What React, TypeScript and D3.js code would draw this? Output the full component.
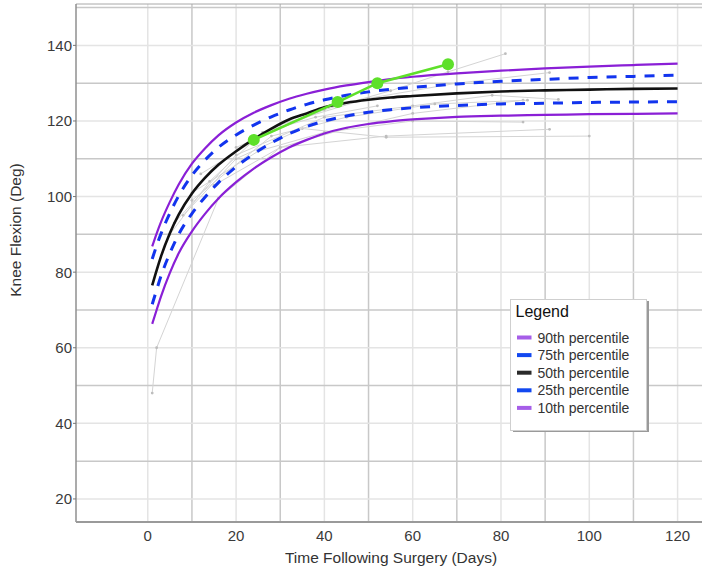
import React, { useEffect, useRef } from 'react';
import * as d3 from 'd3';

// percentile curves (day -> knee flexion in degrees)
const days = [1, 2, 3, 5, 7, 10, 13, 16, 20, 24, 28, 32, 36, 40, 45, 50, 55, 60, 70, 80, 90, 100, 110, 120];
const p90 = [86.8, 90.2, 93.3, 98.6, 103.2, 108.7, 112.8, 116.2, 119.6, 122.2, 124.2, 125.9, 127.2, 128.3, 129.4, 130.3, 131.1, 131.7, 132.6, 133.3, 133.9, 134.4, 134.8, 135.2];
const p75 = [83.5, 87, 90.2, 95.6, 100.2, 105.6, 109.7, 113, 116.3, 118.9, 121.1, 122.9, 124.4, 125.6, 126.8, 127.7, 128.4, 128.9, 129.8, 130.5, 131, 131.5, 131.8, 132.1];
const p50 = [76.5, 80.5, 84.2, 90.3, 95.2, 100.8, 105, 108.4, 112, 115.2, 118, 120.4, 122, 123.6, 124.8, 125.6, 126.2, 126.6, 127.3, 127.8, 128.1, 128.3, 128.5, 128.6];
const p25 = [71.5, 75.3, 79, 85, 90, 95.5, 99.9, 103.7, 107.9, 111.3, 114.2, 116.6, 118.5, 120, 121.3, 122.3, 123, 123.5, 124.1, 124.5, 124.7, 124.9, 125, 125.1];
const p10 = [66.3, 70, 73.6, 79.8, 85, 90.8, 95.5, 99.5, 103.8, 107.4, 110.4, 113, 115, 116.7, 118.2, 119.2, 119.9, 120.4, 121.1, 121.4, 121.6, 121.8, 121.9, 122];

// this patient
const patientDays = [24, 43, 52, 68];
const patientVals = [115, 125, 130, 135];

// other patients (grey background traces) as [day, value]
const traceA = [[1, 48], [2, 60], [16, 99.5], [30, 113], [45, 118], [60, 122], [85, 125.5]];
const traceB = [[8, 95], [20, 110], [35, 118], [54, 115.7], [100, 116]];
const traceC = [[10, 101], [25, 112], [40, 117], [60, 120], [85, 119.7]];
const traceD = [[15, 103], [30, 113], [54, 116], [91, 117.8]];
const traceE = [[20, 113], [40, 123], [55, 128], [68, 133], [81, 137.8]];
const traceF = [[12, 106], [30, 119], [50, 126], [70, 130], [91, 132.8]];
const traceG = [[6, 93], [20, 111], [40, 121], [60, 124], [78, 126.8], [93, 125.7]];
const traceH = [[10, 99], [28, 116], [45, 121], [65, 124.5], [86, 125.5]];
const traceI = [[5, 90], [14, 104], [26, 117], [38, 121], [52, 124]];

const xTicks = [0, 20, 40, 60, 80, 100, 120];
const yTicks = [20, 40, 60, 80, 100, 120, 140];
const legendLabels = ['90th percentile', '75th percentile', '50th percentile', '25th percentile', '10th percentile'];

const FONT = '"Liberation Sans", Arial, Helvetica, sans-serif';

function draw(node: SVGSVGElement) {
  const svg = d3.select(node);
  svg.selectAll('*').remove();

  const left = 76, right = 702, top = 4, bottom = 522;
  const x = d3.scaleLinear().domain([-16.26, 125.53]).range([left, right]);
  const y = d3.scaleLinear().domain([13.9, 150.95]).range([bottom, top]);

  svg.append('rect').attr('width', 702).attr('height', 572).attr('fill', '#fff');

  // grid
  const grid = svg.append('g');
  d3.range(0, 140, 10).forEach(d => {
    grid.append('line')
      .attr('x1', x(d)).attr('x2', x(d)).attr('y1', top).attr('y2', bottom)
      .attr('stroke', d % 20 === 0 ? '#e4e4e4' : '#c8c8c8')
      .attr('stroke-width', 1.5);
  });
  d3.range(20, 160, 10).forEach(v => {
    grid.append('line')
      .attr('x1', left).attr('x2', right).attr('y1', y(v)).attr('y2', y(v))
      .attr('stroke', v % 20 === 0 ? '#e4e4e4' : '#c8c8c8')
      .attr('stroke-width', 1.5);
  });

  // frame
  svg.append('line').attr('x1', left).attr('x2', right).attr('y1', top).attr('y2', top)
    .attr('stroke', '#a8a8a8').attr('stroke-width', 1);
  svg.append('line').attr('x1', left).attr('x2', left).attr('y1', top).attr('y2', bottom)
    .attr('stroke', '#8f8f8f').attr('stroke-width', 1.5);
  svg.append('line').attr('x1', left).attr('x2', right).attr('y1', bottom).attr('y2', bottom)
    .attr('stroke', '#9a9a9a').attr('stroke-width', 2);

  // axis labels
  const yAxis = svg.append('g').attr('font-family', FONT).attr('font-size', 15).attr('fill', '#3a3a3a');
  yTicks.forEach(v => {
    yAxis.append('line').attr('x1', left - 3).attr('x2', left).attr('y1', y(v)).attr('y2', y(v))
      .attr('stroke', '#777').attr('stroke-width', 1);
    yAxis.append('text').attr('x', left - 4).attr('y', y(v)).attr('text-anchor', 'end')
      .attr('dominant-baseline', 'central').text(v);
  });
  const xAxis = svg.append('g').attr('font-family', FONT).attr('font-size', 15).attr('fill', '#3a3a3a');
  xTicks.forEach(d => {
    xAxis.append('rect').attr('x', x(d) - 16).attr('y', bottom + 1.2).attr('width', 32).attr('height', 3)
      .attr('fill', '#fff');
    xAxis.append('text').attr('x', x(d)).attr('y', 535).attr('text-anchor', 'middle')
      .attr('dominant-baseline', 'central').text(d);
  });

  svg.append('text').attr('x', 391).attr('y', 557).attr('text-anchor', 'middle')
    .attr('dominant-baseline', 'central').attr('font-family', FONT).attr('font-size', 15.5)
    .attr('fill', '#333').text('Time Following Surgery (Days)');
  svg.append('text').attr('transform', 'translate(15,230) rotate(-90)').attr('text-anchor', 'middle')
    .attr('dominant-baseline', 'central').attr('font-family', FONT).attr('font-size', 15.5)
    .attr('fill', '#333').text('Knee Flexion (Deg)');

  // grey traces of other patients
  const traces = [traceA, traceB, traceC, traceD, traceE, traceF, traceG, traceH, traceI];
  const plain = d3.line<number[]>().x(p => x(p[0])).y(p => y(p[1]));
  traces.forEach(t => {
    svg.append('path').attr('d', plain(t)).attr('fill', 'none')
      .attr('stroke', '#d4d4d4').attr('stroke-width', 1);
    svg.selectAll(null).data(t).enter().append('circle')
      .attr('cx', p => x(p[0])).attr('cy', p => y(p[1])).attr('r', 1.4).attr('fill', '#bdbdbd');
  });

  // percentile curves
  const curve = d3.line<number>().x((_, i) => x(days[i])).y(v => y(v)).curve(d3.curveMonotoneX);
  const series = [
    { vals: p90, color: '#8a1fd6', width: 2.2, dash: null },
    { vals: p10, color: '#8a1fd6', width: 2.2, dash: null },
    { vals: p75, color: '#1234ee', width: 3, dash: '10,9' },
    { vals: p25, color: '#1234ee', width: 3, dash: '10,9' },
    { vals: p50, color: '#111', width: 2.6, dash: null },
  ];
  series.forEach(s => {
    svg.append('path').attr('d', curve(s.vals)).attr('fill', 'none')
      .attr('stroke', s.color).attr('stroke-width', s.width)
      .attr('stroke-dasharray', s.dash);
  });

  // this patient
  const pts = patientDays.map((d, i) => [d, patientVals[i]]);
  svg.append('path').attr('d', plain(pts)).attr('fill', 'none')
    .attr('stroke', '#5ee02a').attr('stroke-width', 2.6);
  svg.selectAll(null).data(pts).enter().append('circle')
    .attr('cx', p => x(p[0])).attr('cy', p => y(p[1])).attr('r', 6).attr('fill', '#5ee02a');

  // legend
  const lg = svg.append('g').attr('font-family', FONT);
  lg.append('rect').attr('x', 513).attr('y', 301).attr('width', 136).attr('height', 131).attr('fill', '#9a9a9a');
  lg.append('rect').attr('x', 510.5).attr('y', 299.5).attr('width', 136).attr('height', 131)
    .attr('fill', '#fff').attr('stroke', '#cfcfcf').attr('stroke-width', 1);
  lg.append('text').attr('x', 515.5).attr('y', 317).attr('font-size', 16).attr('fill', '#111').text('Legend');
  const swatch = ['#a65ee8', '#1248f0', '#2a2a2a', '#1248f0', '#a65ee8'];
  legendLabels.forEach((label, i) => {
    const cy = 337.5 + i * 17.6;
    lg.append('rect').attr('x', 517).attr('y', cy - 2).attr('width', 14.5).attr('height', 4).attr('fill', swatch[i]);
    lg.append('text').attr('x', 537.5).attr('y', cy).attr('dominant-baseline', 'central')
      .attr('font-size', 14).attr('fill', '#333').text(label);
  });
}

export default function App() {
  const ref = useRef<SVGSVGElement>(null);
  useEffect(() => {
    if (ref.current) draw(ref.current);
  }, []);
  return (
    <svg ref={ref} width={702} height={572}
      style={{ position: 'absolute', left: 0, top: 0, display: 'block' }} />
  );
}
